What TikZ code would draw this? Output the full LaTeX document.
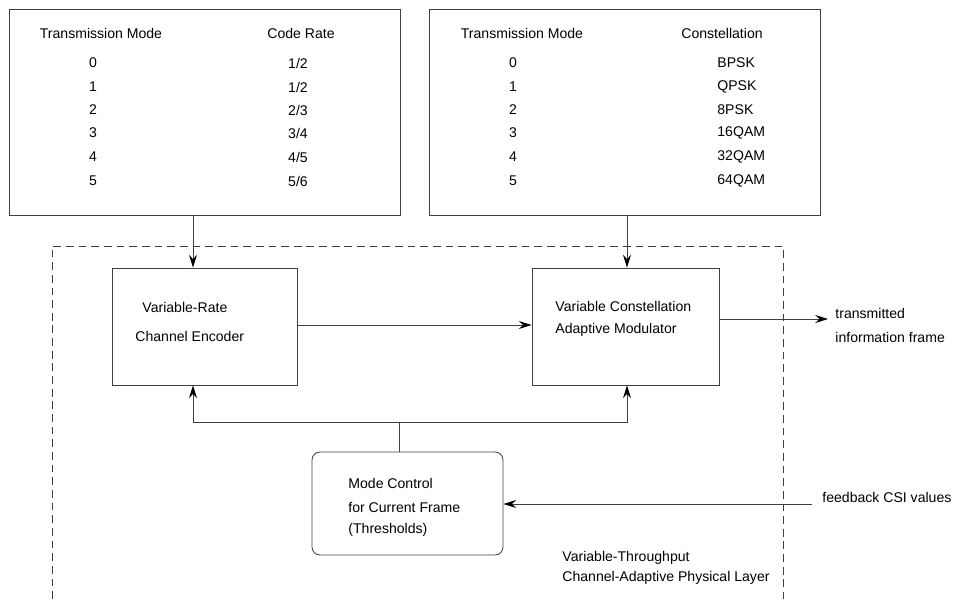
\documentclass[tikz,border=0pt]{standalone}
\usepackage{fontspec}
\setmainfont{Liberation Sans}
\usetikzlibrary{positioning}
\usetikzlibrary{arrows.meta}

\newlength\px
\setlength\px{0.025cm}

\begin{document}
\begin{tikzpicture}[x=0.025cm,y=-0.025cm,line width=0.6pt,
	>={Stealth[length=3.2mm,width=2mm,inset=1.1mm,color=black]},
	conn/.style={->,draw=black!75},
	block/.style={rectangle,draw=black!75,inner sep=0pt},
	txt/.style={anchor=west,inner sep=0pt,font=\fontsize{10}{12}\selectfont},
	ctxt/.style={inner sep=0pt,font=\fontsize{10}{12}\selectfont}]
	
	\useasboundingbox (0,0) rectangle (954,599);
	
	% tables
	\node[block, minimum width=391\px, minimum height=206\px] (rates) at (204.5,112) {};
	\node[block, minimum width=391\px, minimum height=206\px] (consts) at (624.5,112) {};
	
	\node[ctxt] (rmode) at (101,33) {Transmission Mode};
	\node[ctxt] (rhead) at (301,33) {Code Rate};
	\node[ctxt] (cmode) at (522,33) {Transmission Mode};
	\node[ctxt] (chead) at (722,33) {Constellation};
	\foreach \m/\r/\c/\y in {0/1\slash 2/BPSK/63, 1/1\slash 2/QPSK/87, 2/2\slash 3/8PSK/110,
		3/3\slash 4/16QAM/133, 4/4\slash 5/32QAM/157, 5/5\slash 6/64QAM/181}
	{
		\node[ctxt] (rm\m) at (93,\y) {\m};
		\node[ctxt] (rr\m) at (298,\y) {\r};
		\node[ctxt] (cm\m) at (513,\y) {\m};
		\node[txt] (cc\m) at (717,\y) {\c};
	}
	
	% physical layer
	\draw[black!75,dash pattern=on 5.5pt off 3.5pt] (52,599) |- (783,246) -- (783,599);
	
	\node[block, minimum width=185\px, minimum height=117\px] (enc) at (204.5,326.5) {};
	\node[block, minimum width=187\px, minimum height=117\px] (mod) at (625.5,326.5) {};
	\node[block, rounded corners=2mm, minimum width=191\px, minimum height=103\px] (ctrl) at (407.5,503.5) {};
	
	\node[txt] (enc1) at (142,307) {Variable-Rate};
	\node[txt] (enc2) at (135,336) {Channel Encoder};
	\node[txt] (mod1) at (555,306) {Variable Constellation};
	\node[txt] (mod2) at (555,330) {Adaptive Modulator};
	\node[txt] (ctrl1) at (348,483) {Mode Control};
	\node[txt] (ctrl2) at (348,507) {for Current Frame};
	\node[txt] (ctrl3) at (348,530) {(Thresholds)};
	\node[txt] (lay1) at (562,558) {Variable-Throughput};
	\node[txt] (lay2) at (562,578) {Channel-Adaptive Physical Layer};
	\node[txt] (out1) at (835,313) {transmitted};
	\node[txt] (out2) at (835,337) {information frame};
	\node[txt] (csi) at (822,497) {feedback CSI values};
	
	\coordinate (split) at (399,422);
	\coordinate (tx) at (828,319);
	\coordinate (fb) at (812,504);
	
	\draw[conn] (rates.south -| 193,0) -- (enc.north -| 193,0);
	\draw[conn] (consts.south -| 627,0) -- (mod.north -| 627,0);
	\draw[conn] (enc.east |- 0,325) -- (mod.west |- 0,325);
	\draw[conn] (mod.east |- tx) -- (tx);
	\draw[black!75] (ctrl.north -| split) -- (split);
	\draw[conn] (split) -| (enc.south -| 193,0);
	\draw[conn] (split) -| (mod.south -| 627,0);
	\draw[conn] (fb) -- (ctrl.east |- fb);
\end{tikzpicture}
\end{document}
